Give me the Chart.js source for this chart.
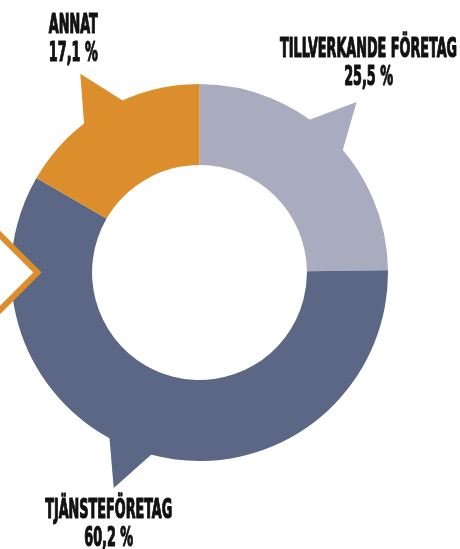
<!DOCTYPE html>
<html>
<head>
<meta charset="utf-8">
<script src="https://cdn.jsdelivr.net/npm/chart.js@4/dist/chart.umd.min.js"></script>
<style>
  html, body { margin: 0; padding: 0; background: #fff; }
  #wrap { width: 460px; height: 549px; }
</style>
</head>
<body>
<div id="wrap"><canvas id="sectorChart" width="460" height="549"></canvas></div>
<script>
var labels = ['TILLVERKANDE FÖRETAG', 'TJÄNSTEFÖRETAG', 'ANNAT'];
var shares = [25.5, 60.2, 17.1];
var colors = ['#A9ABBF', '#5B6784', '#DB8E2B'];

var labelFont = 'bold 26px "Liberation Sans Narrow", "DejaVu Sans Condensed", sans-serif';

// callout tails and text, drawn from each arc's own angles
var calloutPlugin = {
    id: 'callouts',
    beforeDatasetsDraw: function(chart, args, opts) {
        var ctx = chart.ctx;
        chart.getDatasetMeta(0).data.forEach(function(arc, i) {
            var a = (arc.startAngle + arc.endAngle) / 2 + opts.tailShift[i] * Math.PI / 180;
            var half = 8 * Math.PI / 180;
            var R = arc.outerRadius;
            ctx.save();
            ctx.fillStyle = colors[i];
            ctx.beginPath();
            ctx.moveTo(arc.x + R * 0.97 * Math.cos(a - half), arc.y + R * 0.97 * Math.sin(a - half));
            ctx.lineTo(arc.x + R * 1.23 * Math.cos(a), arc.y + R * 1.23 * Math.sin(a));
            ctx.lineTo(arc.x + R * 0.97 * Math.cos(a + half), arc.y + R * 0.97 * Math.sin(a + half));
            ctx.lineTo(arc.x + R * 0.8 * Math.cos(a), arc.y + R * 0.8 * Math.sin(a));
            ctx.closePath();
            ctx.fill();
            ctx.restore();
        });
    },
    afterDatasetsDraw: function(chart, args, opts) {
        var ctx = chart.ctx;
        var area = chart.chartArea;
        var cy = (area.top + area.bottom) / 2;

        // orange chevron on the left edge, over the ring
        ctx.save();
        ctx.strokeStyle = colors[2];
        ctx.fillStyle = '#ffffff';
        ctx.lineWidth = 6;
        ctx.lineJoin = 'miter';
        ctx.beginPath();
        ctx.moveTo(-4, cy - 41.5);
        ctx.lineTo(area.left + 26.5, cy);
        ctx.lineTo(-4, cy + 41.5);
        ctx.fill();
        ctx.stroke();
        ctx.restore();

        ctx.save();
        ctx.font = labelFont;
        var squeeze = 177 / ctx.measureText(labels[0]).width;
        ctx.restore();

        chart.getDatasetMeta(0).data.forEach(function(arc, i) {
            var a = (arc.startAngle + arc.endAngle) / 2 + opts.tailShift[i] * Math.PI / 180;
            var R = arc.outerRadius;
            var tx = arc.x + R * 1.23 * Math.cos(a);
            var ty = arc.y + R * 1.23 * Math.sin(a);
            var bx = tx + opts.nudge[i][0];
            var by = ty + (Math.sin(a) < 0 ? -38 : 38) + opts.nudge[i][1];
            var lines = [labels[i], shares[i].toFixed(1).replace('.', ',') + ' %'];
            ctx.save();
            ctx.fillStyle = '#111111';
            ctx.strokeStyle = '#111111';
            ctx.lineWidth = 1.2;
            ctx.lineJoin = 'round';
            ctx.font = labelFont;
            ctx.textAlign = 'center';
            ctx.textBaseline = 'alphabetic';
            lines.forEach(function(line, j) {
                ctx.save();
                ctx.translate(bx, by - 5 + j * 28);
                ctx.scale(squeeze, 1);
                ctx.fillText(line, 0, 0);
                ctx.strokeText(line, 0, 0);
                ctx.restore();
            });
            ctx.restore();
        });
    }
};

var sectorChart = new Chart(document.getElementById('sectorChart'), {
    type: 'doughnut',
    data: {
        labels: labels,
        datasets: [{
            data: shares,
            backgroundColor: colors,
            borderWidth: 0
        }]
    },
    options: {
        responsive: false,
        animation: false,
        cutout: '57%',
        layout: {
            padding: { left: 11, right: 72, top: 84, bottom: 88 }
        },
        plugins: {
            legend: { display: false },
            tooltip: { enabled: false },
            callouts: {
                tailShift: [-2, 7, -1],
                nudge: [[12, -2], [-5, -3], [-7, 2]]
            }
        }
    },
    plugins: [calloutPlugin]
});
</script>
</body>
</html>
